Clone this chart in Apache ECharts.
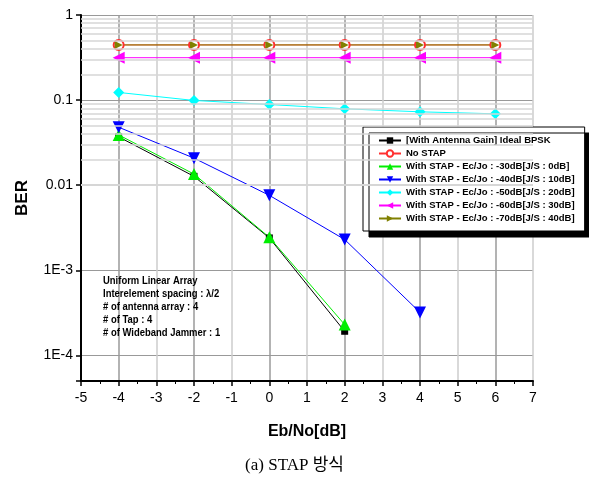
<!DOCTYPE html>
<html>
<head>
<meta charset="utf-8">
<script src="https://cdn.jsdelivr.net/npm/echarts@6/dist/echarts.min.js"></script>
<style>html,body{margin:0;padding:0;background:#fff}#c{width:589px;height:478px}</style>
</head>
<body>
<div id="c"></div>
<script>
var ebno = [-4, -2, 0, 2, 4, 6];
var bpskIdeal = [0.037, 0.0127, 0.0024, 0.000192];
var noStap = [0.445, 0.445, 0.445, 0.445, 0.445, 0.445];
var stap30 = [0.039, 0.0135, 0.00244, 0.00023];
var stap40 = [0.048, 0.0208, 0.0076, 0.0023, 0.00032];
var stap50 = [0.123, 0.099, 0.0887, 0.079, 0.0728, 0.069];
var stap60 = [0.315, 0.315, 0.315, 0.315, 0.315, 0.315];
var stap70 = [0.445, 0.445, 0.445, 0.445, 0.445, 0.445];
var seriesNames = [
  '[With Antenna Gain] Ideal BPSK',
  'No STAP',
  'With STAP - Ec/Jo : -30dB[J/S : 0dB]',
  'With STAP - Ec/Jo : -40dB[J/S : 10dB]',
  'With STAP - Ec/Jo : -50dB[J/S : 20dB]',
  'With STAP - Ec/Jo : -60dB[J/S : 30dB]',
  'With STAP - Ec/Jo : -70dB[J/S : 40dB]'
];
var yTickLabels = {'0': '1', '-1': '0.1', '-2': '0.01', '-3': '1E-3', '-4': '1E-4'};
var noteLines = [
  'Uniform Linear Array',
  'Interelement spacing : \u03bb/2',
  '# of antenna array : 4',
  '# of Tap : 4',
  '# of Wideband Jammer : 1'
];
var minorMantissa = [2, 3, 4, 5, 6, 7, 8, 9];
var decades = [1e-5, 1e-4, 1e-3, 1e-2, 1e-1];

function pairs(vals) { return vals.map(function (v, i) { return [ebno[i], v]; }); }

var minorLines = [];
decades.forEach(function (d) {
  minorMantissa.forEach(function (m) {
    var v = m * d;
    if (v >= 5e-5 && v < 1) minorLines.push({ yAxis: v });
  });
});

var fnt = '"Liberation Sans", Arial, sans-serif';

function mk(name, data, color, symbol, size, rot, extra) {
  var s = {
    name: name, type: 'line', data: pairs(data),
    symbol: symbol, symbolSize: size, symbolRotate: rot || 0,
    lineStyle: { color: color, width: 1 },
    itemStyle: { color: color },
    z: 3, animation: false
  };
  if (extra) for (var k in extra) s[k] = extra[k];
  return s;
}

var chart = echarts.init(document.getElementById('c'), null, { renderer: 'canvas' });
chart.setOption({
  backgroundColor: '#fff',
  animation: false,
  grid: { left: 81, right: 56, top: 15, bottom: 97 },
  xAxis: {
    type: 'value', min: -5, max: 7, interval: 1,
    name: 'Eb/No[dB]', nameLocation: 'middle', nameGap: 43,
    nameTextStyle: { fontFamily: 'Liberation Sans, Arial', fontWeight: 'bold', fontSize: 16, color: '#000' },
    axisLine: { onZero: false, lineStyle: { color: '#000', width: 2 } },
    axisTick: { show: true, length: 5, lineStyle: { color: '#000', width: 1.5 } },
    minorTick: { show: true, splitNumber: 2, length: 3, lineStyle: { color: '#000' } },
    axisLabel: { color: '#000', fontSize: 14, fontFamily: 'Liberation Sans, Arial', margin: 10 },
    splitLine: { show: true, lineStyle: { color: ['#cccccc', '#9a9a9a'], width: 1.5 } }
  },
  yAxis: {
    type: 'log', logBase: 10, min: 5e-5, max: 1,
    name: 'BER', nameLocation: 'middle', nameGap: 50, nameRotate: 90,
    nameTextStyle: { fontFamily: 'Liberation Sans, Arial', fontWeight: 'bold', fontSize: 17, color: '#000' },
    axisLine: { show: true, onZero: false, lineStyle: { color: '#000', width: 2 } },
    axisTick: { show: true, length: 5, lineStyle: { color: '#000', width: 1.5 } },
    axisLabel: {
      color: '#000', fontSize: 14, fontFamily: 'Liberation Sans, Arial', margin: 8,
      formatter: function (v) {
        var l = Math.log10(v), r = Math.round(l);
        if (Math.abs(l - r) > 1e-6) return '';
        return yTickLabels[String(r)] || '';
      }
    },
    splitLine: { show: true, lineStyle: { color: '#999999', width: 1 } }
  },
  legend: {
    orient: 'vertical', left: 363, top: 127,
    data: seriesNames,
    backgroundColor: '#fff', borderColor: '#000', borderWidth: 1,
    shadowColor: '#000', shadowBlur: 0, shadowOffsetX: 6, shadowOffsetY: 6,
    padding: [8, 10, 7, 15], itemGap: 2, itemWidth: 22, itemHeight: 8,
    textStyle: { fontFamily: fnt, fontWeight: 'bold', fontSize: 9.5, lineHeight: 11, color: '#000' }
  },
  graphic: [{
    type: 'text', left: 103, top: 274, z: 10, scaleX: 0.86,
    style: { text: noteLines.join('\n'), fontFamily: fnt, fontWeight: 'bold', fontSize: 11, lineHeight: 13, fill: '#000' }
  }, {
    type: 'text', left: 'center', top: 457, z: 10,
    style: { text: '(a) STAP 방식', fontFamily: '"Liberation Serif", "DejaVu Serif", "Noto Sans CJK KR", serif', fontSize: 17, fill: '#000' }
  }],
  series: [
    {
      name: 'minorgrid', type: 'line', data: [], silent: true, z: 1,
      markLine: {
        silent: true, symbol: 'none', label: { show: false },
        lineStyle: { color: '#d6d6d6', type: 'solid', width: 1.5 },
        data: minorLines, animation: false
      }
    },
    mk(seriesNames[0], bpskIdeal, '#000000', 'rect', 7, 0),
    mk(seriesNames[1], noStap, '#ff3030', 'emptyCircle', 10, 0, { itemStyle: { color: '#ff3030', borderWidth: 1 } }),
    mk(seriesNames[2], stap30, '#00ee00', 'triangle', 12, 0),
    mk(seriesNames[3], stap40, '#0000ff', 'triangle', 12, 180),
    mk(seriesNames[4], stap50, '#00ffff', 'diamond', 11, 0),
    mk(seriesNames[5], stap60, '#ff00ff', 'triangle', 12, 90),
    mk(seriesNames[6], stap70, '#808000', 'triangle', 8, -90)
  ]
});
</script>
</body>
</html>
